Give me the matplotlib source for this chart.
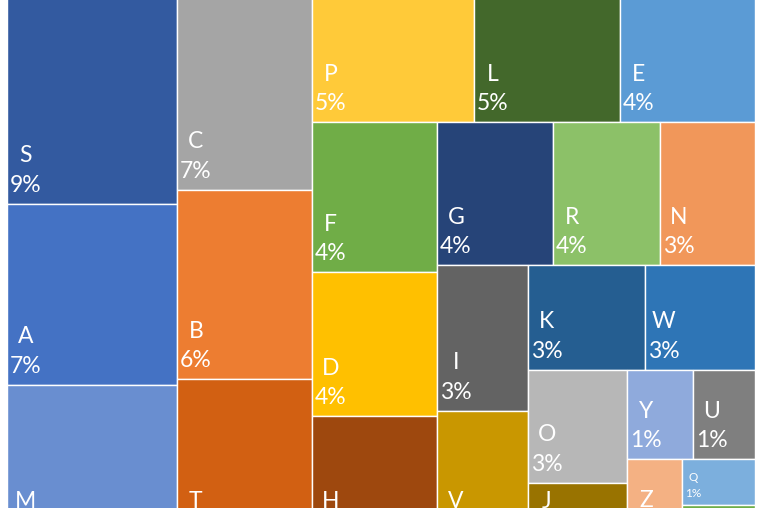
import matplotlib
matplotlib.use("Agg")
import matplotlib.pyplot as plt
from matplotlib.patches import Rectangle

labels = ["S", "A", "M", "C", "B", "T", "P", "L", "E", "F", "D", "H", "G",
          "R", "N", "I", "V", "K", "W", "O", "J", "Y", "U", "Z", "Q", "X"]
values = [8.85, 7.28, 6.60, 6.58, 6.04, 5.43, 5.29, 4.77, 4.41, 4.44, 4.26,
          3.93, 3.93, 3.62, 3.21, 3.14, 2.97, 2.91, 2.73, 2.65, 1.55, 1.39,
          1.31, 1.17, 0.79, 0.76]
colors = ["#335AA0", "#4472C4", "#698ED0", "#A5A5A5", "#ED7D31", "#D26012",
          "#FFCA39", "#43682B", "#5B9BD5", "#70AD47", "#FFC000", "#9E480E",
          "#264478", "#8CC168", "#F1975A", "#636363", "#C99700", "#255E91",
          "#2E75B6", "#B7B7B7", "#997300", "#8FAADC", "#7F7F7F", "#F4B183",
          "#7CAFDD", "#6FAE49"]
# number of items in each strip of the treemap layout
strip_counts = [3, 3, 3, 3, 3, 2, 2, 2, 2, 1, 1, 1]

# treemap frame (pixel space of the figure; chart is cropped by the figure)
X0, Y0, W, H = 7, -16, 748, 565


def strip_layout(vals, counts, x, y, w, h):
    tot = sum(vals)
    areas = [v * w * h / tot for v in vals]
    rects = []
    i = 0
    for n in counts:
        row = areas[i:i + n]
        i += n
        s = sum(row)
        if w >= h:
            cw = s / h
            yy = y
            for a in row:
                rh = a / cw
                rects.append((x, yy, cw, rh))
                yy += rh
            x += cw
            w -= cw
        else:
            rh = s / w
            xx = x
            for a in row:
                rw = a / rh
                rects.append((xx, y, rw, rh))
                xx += rw
            y += rh
            h -= rh
    return rects


fig = plt.figure(figsize=(7.62, 5.08), dpi=100)
ax = fig.add_axes([0, 0, 1, 1])
ax.set_xlim(0, 762)
ax.set_ylim(508, 0)
ax.axis("off")

total = sum(values)
rects = strip_layout(values, strip_counts, X0, Y0, W, H)
for (x, y, w, h), lab, v, c in zip(rects, labels, values, colors):
    ax.add_patch(Rectangle((x, y), w, h, facecolor=c, edgecolor="white", linewidth=1.0))
    pct = round(v / total * 100)
    small = h < 60
    fs = 8.5 if small else 16.5
    off = 6 if small else 8
    ax.text(x + 3, y + h - off, f"{lab}\n{pct}%", color="white", fontsize=fs,
            family=["Lato", "DejaVu Sans"], ha="left", va="bottom",
            multialignment="center", linespacing=1.5, clip_on=True)

fig.savefig("out.png", dpi=100)
